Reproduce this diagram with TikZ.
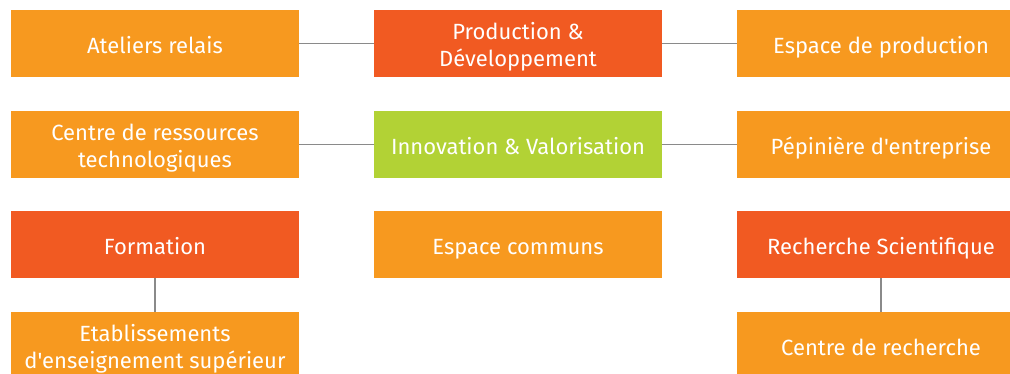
\documentclass[tikz,border=0pt]{standalone}
\usepackage{fontspec}
\setmainfont{Fira Sans}[Ligatures=TeXOff]
\definecolor{orangebox}{HTML}{F7991F}
\definecolor{redbox}{HTML}{F15A22}
\definecolor{greenbox}{HTML}{B2D235}
\definecolor{linkgray}{HTML}{8A8A8A}
\begin{document}
\begin{tikzpicture}[x=1pt, y=-1pt,
        box/.style={minimum width=288pt, minimum height=67pt, inner sep=0pt,
                align=center, text=white, font=\fontsize{22}{27}\selectfont},
        oneline/.style={box, text height=19pt, text depth=0pt},
        twolines/.style={box, text height=46pt, text depth=0pt},
        link/.style={draw=linkgray, line width=1.2pt}]
        \useasboundingbox (0,0) rectangle (1010,373);
        \clip (0,0) rectangle (1010,373);
        % left column
        \node[oneline, fill=orangebox] (ateliers) at (155,43.5) {Ateliers relais};
        \node[twolines, fill=orangebox] (ressources) at (155,144.5) {Centre de ressources\\technologiques};
        \node[oneline, fill=redbox] (formation) at (155,244.5) {Formation};
        \node[twolines, fill=orangebox] (etablissements) at (155,345.5) {Etablissements\\d'enseignement supérieur};
        % middle column
        \node[twolines, fill=redbox] (production) at (518,43.5) {Production \&\\Développement};
        \node[oneline, fill=greenbox] (innovation) at (518,144.5) {Innovation \& Valorisation};
        \node[oneline, fill=orangebox] (communs) at (518,244.5) {Espace communs};
        % right column
        \node[oneline, fill=orangebox] (espace) at (881,43.5) {Espace de production};
        \node[oneline, fill=orangebox] (pepiniere) at (881,144.5) {Pépinière d'entreprise};
        \node[oneline, fill=redbox] (recherche) at (881,244.5) {Recherche Scientifique};
        \node[oneline, fill=orangebox] (centre) at (881,345.5) {Centre de recherche};
        % links
        \draw[link] (ateliers) -- (production);
        \draw[link] (production) -- (espace);
        \draw[link] (ressources) -- (innovation);
        \draw[link] (innovation) -- (pepiniere);
        \draw[link] (formation) -- (etablissements);
        \draw[link] (recherche) -- (centre);
    \end{tikzpicture}
\end{document}
